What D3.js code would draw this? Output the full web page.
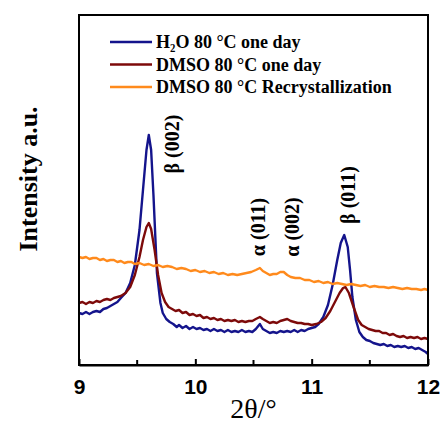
<!DOCTYPE html>
<html>
<head>
<meta charset="utf-8">
<script src="https://cdn.jsdelivr.net/npm/d3@7"></script>
<style>
  body { margin: 0; background: #fff; }
  svg { display: block; }
</style>
</head>
<body>
<svg id="chart" width="442" height="425"></svg>
<script>
// 2θ (deg), intensity (a.u.)
const h2oOneDay = [
    [9.00, 52], [9.03, 51], [9.06, 53], [9.09, 51], [9.12, 53], [9.15, 54], [9.18, 53], [9.21, 56],
    [9.24, 57], [9.27, 59], [9.30, 61], [9.33, 63], [9.36, 67], [9.40, 72], [9.44, 82],
    [9.48, 100], [9.52, 135], [9.55, 175], [9.58, 215], [9.60, 230], [9.62, 215], [9.64, 170],
    [9.67, 92], [9.70, 62], [9.72, 52], [9.75, 46], [9.78, 43], [9.81, 41], [9.84, 38],
    [9.86, 40], [9.89, 37], [9.92, 39], [9.95, 36], [9.98, 38], [10.01, 36], [10.04, 37],
    [10.07, 35], [10.10, 36], [10.13, 34], [10.16, 36], [10.19, 34], [10.22, 35], [10.25, 33],
    [10.28, 35], [10.31, 33], [10.34, 34], [10.37, 33], [10.40, 35], [10.43, 33], [10.46, 34],
    [10.49, 33], [10.52, 36], [10.555, 41], [10.58, 36], [10.61, 34], [10.64, 32], [10.67, 33],
    [10.70, 32], [10.73, 34], [10.76, 33], [10.79, 34], [10.82, 33], [10.85, 35], [10.88, 33],
    [10.91, 35], [10.94, 34], [10.97, 36], [11.00, 37], [11.03, 38], [11.06, 41], [11.10, 48],
    [11.14, 60], [11.18, 80], [11.22, 105], [11.25, 122], [11.28, 130], [11.31, 118],
    [11.33, 95], [11.35, 68], [11.38, 45], [11.41, 33], [11.44, 28], [11.47, 25], [11.50, 24],
    [11.53, 22], [11.56, 21], [11.59, 20], [11.62, 21], [11.65, 19], [11.68, 20], [11.71, 18],
    [11.74, 19], [11.77, 18], [11.80, 19], [11.83, 17], [11.86, 18], [11.89, 16], [11.92, 17],
    [11.95, 15], [11.98, 13], [12.00, 11]
];
const dmsoOneDay = [
    [9.00, 62], [9.03, 63], [9.06, 61], [9.09, 63], [9.12, 62], [9.15, 64], [9.18, 63], [9.21, 65],
    [9.24, 66], [9.27, 65], [9.30, 67], [9.33, 68], [9.36, 69], [9.40, 72], [9.44, 78],
    [9.48, 90], [9.52, 108], [9.55, 125], [9.58, 138], [9.60, 142], [9.62, 136], [9.65, 115],
    [9.68, 90], [9.71, 72], [9.74, 63], [9.77, 58], [9.80, 56], [9.83, 54], [9.86, 55],
    [9.89, 52], [9.92, 53], [9.95, 50], [9.98, 51], [10.01, 49], [10.04, 50], [10.07, 47],
    [10.10, 48], [10.13, 46], [10.16, 47], [10.19, 45], [10.22, 46], [10.25, 44], [10.28, 45],
    [10.31, 44], [10.34, 45], [10.37, 43], [10.40, 44], [10.43, 43], [10.46, 44], [10.49, 44],
    [10.52, 46], [10.555, 48], [10.58, 46], [10.61, 44], [10.64, 42], [10.67, 43], [10.70, 42],
    [10.73, 44], [10.76, 45], [10.79, 46], [10.82, 44], [10.85, 43], [10.88, 42], [10.91, 42],
    [10.94, 41], [10.97, 41], [11.00, 40], [11.04, 41], [11.08, 43], [11.12, 47], [11.16, 54],
    [11.20, 63], [11.24, 72], [11.27, 77], [11.29, 78], [11.32, 72], [11.36, 58], [11.40, 45],
    [11.43, 40], [11.46, 38], [11.49, 36], [11.52, 35], [11.55, 34], [11.58, 34], [11.61, 32],
    [11.64, 32], [11.67, 30], [11.70, 31], [11.73, 29], [11.76, 28], [11.79, 29], [11.82, 27],
    [11.85, 28], [11.88, 27], [11.91, 28], [11.94, 26], [11.97, 27], [12.00, 26]
];
const dmsoRecryst = [
    [9.00, 108], [9.03, 107], [9.06, 108], [9.09, 106], [9.12, 107], [9.15, 107], [9.18, 105],
    [9.21, 106], [9.24, 104], [9.27, 105], [9.30, 105], [9.33, 103], [9.36, 104], [9.39, 102],
    [9.42, 103], [9.45, 103], [9.48, 101], [9.52, 102], [9.56, 100], [9.60, 101], [9.64, 99],
    [9.68, 100], [9.72, 98], [9.76, 99], [9.80, 98], [9.84, 96], [9.88, 97], [9.92, 96],
    [9.96, 94], [10.00, 95], [10.04, 93], [10.08, 94], [10.12, 92], [10.16, 93], [10.20, 91],
    [10.24, 92], [10.28, 90], [10.32, 91], [10.36, 90], [10.40, 91], [10.44, 92], [10.48, 93],
    [10.52, 95], [10.555, 97], [10.58, 94], [10.61, 92], [10.64, 90], [10.67, 91], [10.70, 91],
    [10.73, 93], [10.76, 93], [10.79, 90], [10.82, 88], [10.86, 87], [10.90, 87], [10.94, 85],
    [10.98, 85], [11.02, 83], [11.06, 84], [11.10, 82], [11.14, 83], [11.18, 81], [11.22, 82],
    [11.26, 81], [11.30, 80], [11.34, 81], [11.38, 80], [11.42, 79], [11.46, 80], [11.50, 78],
    [11.54, 79], [11.58, 78], [11.62, 78], [11.66, 77], [11.70, 78], [11.74, 77], [11.78, 76],
    [11.82, 77], [11.86, 76], [11.90, 76], [11.94, 75], [11.97, 76], [12.00, 75]
];

const seriesNames = ["H₂O 80 °C one day", "DMSO 80 °C one day", "DMSO 80 °C Recrystallization"];
const seriesColors = ["#14148c", "#7d0a0a", "#ff8a1c"];
const seriesData = [h2oOneDay, dmsoOneDay, dmsoRecryst];

const xTicks = [9, 10, 11, 12];
const xMinorTicks = [9.5, 10.5, 11.5];

// peak labels: text, 2θ, intensity at label centre
const peakLabels = [
    ["β (002)", 9.80, 221],
    ["α (011)", 10.535, 138],
    ["α (002)", 10.835, 138],
    ["β (011)", 11.31, 170]
];

const margin = { top: 15, right: 14, bottom: 60, left: 79 };
const svg = d3.select("#chart");
const width = +svg.attr("width") - margin.left - margin.right;
const height = +svg.attr("height") - margin.top - margin.bottom;

const chartArea = svg.append("g")
    .attr("transform", `translate(${margin.left},${margin.top})`);

const xScale = d3.scaleLinear().domain([9, 12]).range([0, width]);
const yScale = d3.scaleLinear().domain([0, 350]).range([height, 0]);

const line = d3.line()
    .x(d => xScale(d[0]))
    .y(d => yScale(d[1]));

chartArea.selectAll(".series")
    .data(seriesData)
    .join("path")
    .attr("class", "series")
    .attr("fill", "none")
    .attr("stroke", (d, i) => seriesColors[i])
    .attr("stroke-width", 2.4)
    .attr("stroke-linejoin", "round")
    .attr("d", line);

// frame
chartArea.append("rect")
    .attr("width", width)
    .attr("height", height)
    .attr("fill", "none")
    .attr("stroke", "#000")
    .attr("stroke-width", 2);

const xAxis = d3.axisBottom(xScale)
    .tickValues(xTicks)
    .tickSize(-6)
    .tickSizeOuter(0)
    .tickPadding(14)
    .tickFormat(d3.format("d"));

const xAxisG = chartArea.append("g")
    .attr("transform", `translate(0,${height})`)
    .call(xAxis);
xAxisG.select(".domain").attr("stroke-width", 2);
xAxisG.selectAll(".tick line").attr("stroke-width", 2);
xAxisG.selectAll(".tick text")
    .attr("font-family", "Liberation Sans, Arial, sans-serif")
    .attr("font-weight", "bold")
    .attr("font-size", 21)
    .attr("fill", "#000");

chartArea.append("g")
    .selectAll("line")
    .data(xMinorTicks)
    .join("line")
    .attr("x1", d => xScale(d))
    .attr("x2", d => xScale(d))
    .attr("y1", height)
    .attr("y2", height - 5)
    .attr("stroke", "#000")
    .attr("stroke-width", 2);

// axis titles
svg.append("text")
    .attr("x", margin.left + width / 2)
    .attr("y", 418)
    .attr("text-anchor", "middle")
    .attr("font-family", "Liberation Serif, Times New Roman, serif")
    .attr("font-size", 28)
    .attr("fill", "#000")
    .text("2θ/°");

svg.append("text")
    .attr("transform", `translate(37,179) rotate(-90)`)
    .attr("text-anchor", "middle")
    .attr("font-family", "Liberation Serif, Times New Roman, serif")
    .attr("font-weight", "bold")
    .attr("font-size", 26)
    .attr("fill", "#000")
    .text("Intensity a.u.");

// peak labels
chartArea.selectAll(".peak-label")
    .data(peakLabels)
    .join("text")
    .attr("class", "peak-label")
    .attr("transform", d => `translate(${xScale(d[1])},${yScale(d[2])}) rotate(-90)`)
    .attr("text-anchor", "middle")
    .attr("dominant-baseline", "central")
    .attr("font-family", "Liberation Serif, Times New Roman, serif")
    .attr("font-weight", "bold")
    .attr("font-size", 20)
    .attr("fill", "#000")
    .text(d => d[0]);

// legend
const legend = svg.append("g").attr("transform", "translate(110,42)");
const legendRows = legend.selectAll("g")
    .data(seriesNames)
    .join("g")
    .attr("transform", (d, i) => `translate(0,${i * 22.5})`);
legendRows.append("line")
    .attr("x1", 0)
    .attr("x2", 42)
    .attr("stroke", (d, i) => seriesColors[i])
    .attr("stroke-width", 2.4);
legendRows.append("text")
    .attr("x", 46)
    .attr("y", 6)
    .attr("font-family", "Liberation Serif, Times New Roman, serif")
    .attr("font-weight", "bold")
    .attr("font-size", 18)
    .attr("fill", "#000")
    .text(d => d);
</script>
</body>
</html>
